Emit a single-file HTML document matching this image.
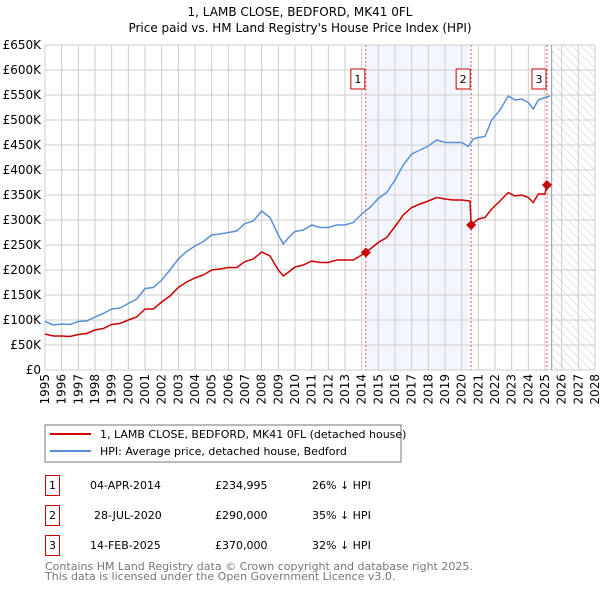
<!DOCTYPE html>
<html><head><meta charset="utf-8"><style>
body{margin:0;background:#fff;width:600px;height:590px;overflow:hidden}
svg{display:block;font-family:"DejaVu Sans","Liberation Sans",sans-serif}
</style></head><body>
<svg id="chart" width="600" height="590" viewBox="0 0 600 590">
<defs><pattern id="hatch" width="6" height="6" patternUnits="userSpaceOnUse" patternTransform="rotate(-45)"><line x1="0" y1="0" x2="0" y2="6" stroke="#ccc" stroke-width="1"/></pattern></defs>
<text x="300" y="16" text-anchor="middle" font-size="12">1, LAMB CLOSE, BEDFORD, MK41 0FL</text>
<text x="300" y="32" text-anchor="middle" font-size="12">Price paid vs. HM Land Registry's House Price Index (HPI)</text>
<g id="plot"></g>
<rect x="45" y="425" width="356" height="37" fill="#fff" stroke="#777"/>
<line x1="50" y1="434" x2="91" y2="434" stroke="#cc0000" stroke-width="2"/>
<text x="100" y="438" font-size="11">1, LAMB CLOSE, BEDFORD, MK41 0FL (detached house)</text>
<line x1="50" y1="451" x2="91" y2="451" stroke="#5b8fd6" stroke-width="2"/>
<text x="100" y="455" font-size="11">HPI: Average price, detached house, Bedford</text>
<g font-size="11">
<rect x="45.5" y="475.5" width="14" height="20" fill="none" stroke="#cc0000"/><text x="52.5" y="489" text-anchor="middle">1</text>
<text x="90" y="489">04-APR-2014</text><text x="215" y="489">£234,995</text><text x="312" y="489">26% ↓ HPI</text>
<rect x="45.5" y="505.5" width="14" height="20" fill="none" stroke="#cc0000"/><text x="52.5" y="519" text-anchor="middle">2</text>
<text x="94" y="519">28-JUL-2020</text><text x="215" y="519">£290,000</text><text x="312" y="519">35% ↓ HPI</text>
<rect x="45.5" y="535.5" width="14" height="20" fill="none" stroke="#cc0000"/><text x="52.5" y="549" text-anchor="middle">3</text>
<text x="90" y="549">14-FEB-2025</text><text x="215" y="549">£370,000</text><text x="312" y="549">32% ↓ HPI</text>
</g>
<text x="45" y="570" font-size="11" fill="#777">Contains HM Land Registry data © Crown copyright and database right 2025.</text>
<text x="45" y="580" font-size="11" fill="#777">This data is licensed under the Open Government Licence v3.0.</text>
</svg>
<script>
const yTicks=[0,50,100,150,200,250,300,350,400,450,500,550,600,650];
const yTickLabels=["£0","£50K","£100K","£150K","£200K","£250K","£300K","£350K","£400K","£450K","£500K","£550K","£600K","£650K"];
const xYears=[1995,1996,1997,1998,1999,2000,2001,2002,2003,2004,2005,2006,2007,2008,2009,2010,2011,2012,2013,2014,2015,2016,2017,2018,2019,2020,2021,2022,2023,2024,2025,2026,2027,2028];
const hpiT=[1995,1995.5,1996,1996.5,1997,1997.5,1998,1998.5,1999,1999.5,2000,2000.5,2001,2001.5,2002,2002.5,2003,2003.5,2004,2004.5,2005,2005.5,2006,2006.5,2007,2007.5,2008,2008.5,2009,2009.3,2009.7,2010,2010.5,2011,2011.5,2012,2012.5,2013,2013.5,2014,2014.5,2015,2015.5,2016,2016.5,2017,2017.5,2018,2018.5,2019,2019.5,2020,2020.4,2020.7,2021,2021.4,2021.8,2022.3,2022.8,2023.2,2023.6,2024,2024.3,2024.6,2025,2025.3];
const hpiV=[97,90,92,91,97,98,106,113,122,124,133,142,163,165,180,200,222,237,248,257,270,272,275,278,293,298,318,305,270,252,268,277,280,290,285,285,290,290,295,312,325,343,355,380,410,432,440,448,460,455,455,455,447,462,465,467,500,520,548,540,542,535,522,540,545,548];
const priceT=[1995,1995.5,1996,1996.5,1997,1997.5,1998,1998.5,1999,1999.5,2000,2000.5,2001,2001.5,2002,2002.5,2003,2003.5,2004,2004.5,2005,2005.5,2006,2006.5,2007,2007.5,2008,2008.5,2009,2009.3,2009.7,2010,2010.5,2011,2011.5,2012,2012.5,2013,2013.5,2014.25,2015,2015.5,2016,2016.5,2017,2017.5,2018,2018.5,2019,2019.5,2020,2020.5,2020.57,2021,2021.4,2021.8,2022.3,2022.8,2023.2,2023.6,2024,2024.3,2024.6,2025,2025.12];
const priceV=[72,68,68,67,71,73,80,83,91,93,100,106,122,122,136,148,165,176,184,190,200,202,205,205,217,222,236,228,200,188,198,206,210,218,215,215,220,220,220,235,255,265,287,310,325,332,338,345,342,340,340,338,290,302,305,322,338,355,348,350,345,335,352,352,370];
const saleT=[2014.25,2020.57,2025.12];
const saleV=[234.995,290,370];
const saleLabels=["1","2","3"];
const NS="http://www.w3.org/2000/svg";
const X0=45,X1=595,Y0=370,Y1=45;
const xs=t=>X0+(t-1995)*(X1-X0)/33;
const ys=v=>Y0-v*(Y0-Y1)/650;
const g=document.getElementById('plot');
function mk(tag,attrs,parent){const e=document.createElementNS(NS,tag);for(const k in attrs)e.setAttribute(k,attrs[k]);(parent||g).appendChild(e);return e;}
let e;
e=mk('rect',{x:xs(saleT[0]),y:Y1,width:xs(saleT[1])-xs(saleT[0]),height:Y0-Y1,fill:'#eef3fc',opacity:0.7});


e=mk('rect',{x:xs(2025.4),y:Y1,width:X1-xs(2025.4),height:Y0-Y1,fill:'url(#hatch)'});


yTicks.forEach((v,i)=>{
 e=mk('line',{x1:X0,x2:X1,y1:ys(v),y2:ys(v),stroke:'#ccc','stroke-width':1});
 
 
 e=mk('text',{x:41,y:ys(v)+4,'text-anchor':'end','font-size':12});
 e.textContent=yTickLabels[i];
 
 
});
xYears.forEach(yr=>{
 e=mk('line',{x1:xs(yr),x2:xs(yr),y1:Y1,y2:Y0,stroke:'#ccc','stroke-width':1});
 
 
 e=mk('text',{x:0,y:0,'font-size':12,'text-anchor':'end',transform:`translate(${xs(yr)+4},374) rotate(-90)`});
 e.textContent=yr;
 
 
});
e=mk('line',{x1:xs(2025.4),x2:xs(2025.4),y1:Y1,y2:Y0,stroke:'#8899aa','stroke-width':1});


saleT.forEach((t,i)=>{
 e=mk('line',{x1:xs(t),x2:xs(t),y1:Y1,y2:Y0,stroke:'#e06060','stroke-width':1,'stroke-dasharray':'2,2'});
 
 
});
e=mk('path',{d:hpiT.map((t,i)=>(i?'L':'M')+xs(t).toFixed(1)+' '+ys(hpiV[i]).toFixed(1)).join(''),fill:'none',stroke:'#5b8fd6','stroke-width':1.5});


e=mk('path',{d:priceT.map((t,i)=>(i?'L':'M')+xs(t).toFixed(1)+' '+ys(priceV[i]).toFixed(1)).join(''),fill:'none',stroke:'#cc0000','stroke-width':1.5});


saleT.forEach((t,i)=>{
 const cx=xs(t),cy=ys(saleV[i]);
 e=mk('path',{d:`M${cx} ${cy-5}L${cx+5} ${cy}L${cx} ${cy+5}L${cx-5} ${cy}Z`,fill:'#cc0000'});
 
 
 e=mk('rect',{x:cx-15,y:69,width:14,height:20,fill:'#fff',stroke:'#cc0000'});
 
 
 e=mk('text',{x:cx-8,y:83,'text-anchor':'middle','font-size':11});
 e.textContent=saleLabels[i];
 
 
});
</script>
</body></html>
